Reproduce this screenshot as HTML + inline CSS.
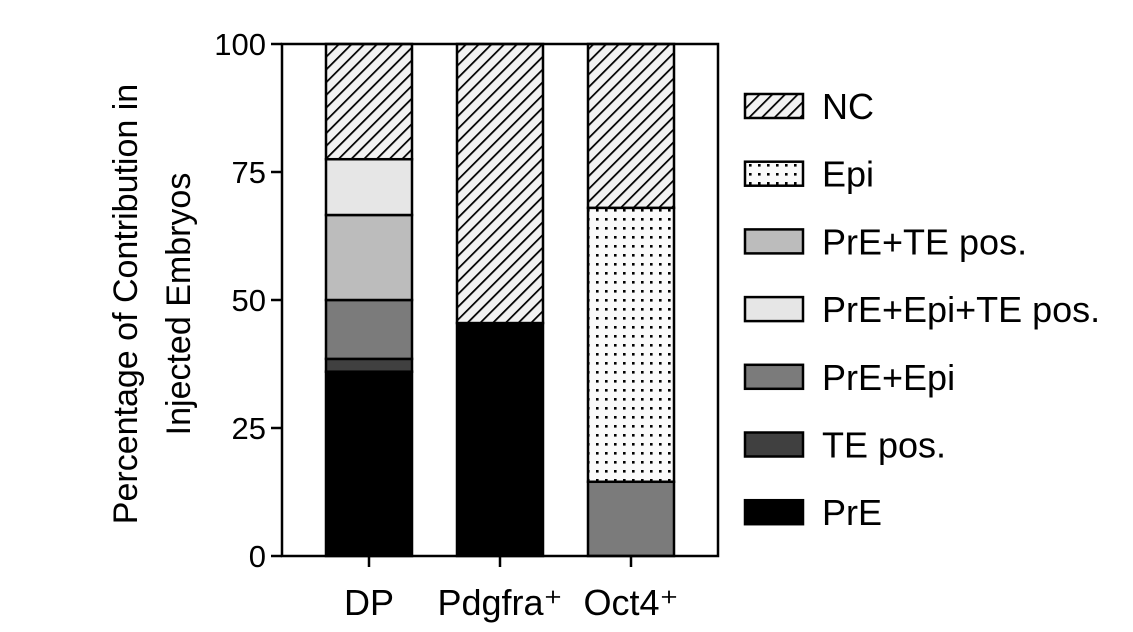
<!DOCTYPE html>
<html><head><meta charset="utf-8"><style>
body{margin:0;background:#fff;width:1133px;height:627px;overflow:hidden}
text{font-family:"Liberation Sans",Arial,sans-serif;fill:#000}
</style></head><body>
<svg id="chart" width="1133" height="627" viewBox="0 0 1133 627">
<defs>
<pattern id="hatch" patternUnits="userSpaceOnUse" width="9" height="9" patternTransform="rotate(45)">
<rect width="9" height="9" fill="#f2f2f2"/><line x1="0" y1="0" x2="0" y2="9" stroke="#000" stroke-width="3.5"/>
</pattern>
<pattern id="dots" patternUnits="userSpaceOnUse" width="9" height="9">
<rect width="9" height="9" fill="#fafafa"/><rect x="2" y="2" width="2.6" height="2.6" fill="#000"/>
</pattern>
</defs>
<g id="plot"></g>
<g id="legend"></g>
<text transform="translate(137,304) rotate(-90)" text-anchor="middle" font-size="34">Percentage of Contribution in</text>
<text transform="translate(190,304) rotate(-90)" text-anchor="middle" font-size="34">Injected Embryos</text>
</svg>
<script>
const categories=["DP","Pdgfra","Oct4"];
const seriesNames=["PrE","TE pos.","PrE+Epi","PrE+TE pos.","PrE+Epi+TE pos.","Epi","NC"];
const PrE=[36,45.5,0];
const TEpos=[2.5,0,0];
const PrEEpi=[11.5,0,14.5];
const PrETE=[16.6,0,0];
const PrEEpiTE=[10.9,0,0];
const Epi=[0,0,53.5];
const NC=[22.5,54.5,32];
const yTicks=[0,25,50,75,100];
const legendOrder=["NC","Epi","PrE+TE pos.","PrE+Epi+TE pos.","PrE+Epi","TE pos.","PrE"];
const fills={"PrE":"#000","TE pos.":"#404040","PrE+Epi":"#7b7b7b","PrE+Epi+TE pos.":"#e6e6e6","PrE+TE pos.":"#bcbcbc","Epi":"url(#dots)","NC":"url(#hatch)"};
const series=[PrE,TEpos,PrEEpi,PrETE,PrEEpiTE,Epi,NC];
const NS="http://www.w3.org/2000/svg";
const L=282,R=718,T=44,B=556,bw=86;
const y=v=>B-(v/100)*(B-T);
const xc=i=>369+i*131;
const plot=document.getElementById('plot');
function mk(tag,attrs,parent){const e=document.createElementNS(NS,tag);for(const k in attrs)e.setAttribute(k,attrs[k]);parent.appendChild(e);return e;}
categories.forEach((c,i)=>{
  let acc=0;
  series.forEach((s,j)=>{
    const v=s[i];if(v<=0)return;
    const r=mk('rect',{x:xc(i)-bw/2,y:y(acc+v),width:bw,height:y(acc)-y(acc+v),fill:fills[seriesNames[j]],stroke:'#000','stroke-width':2.5},plot);
    
    
    acc+=v;
  });
  const tk=mk('line',{x1:xc(i),x2:xc(i),y1:B,y2:B+11,stroke:'#000','stroke-width':2.5},plot);
  
  
  const t=mk('text',{x:xc(i),y:615,'text-anchor':'middle','font-size':36},plot);
  
  
  t.textContent=c+(c==="DP"?"":"\u207A");
});
const frame=mk('rect',{x:L,y:T,width:R-L,height:B-T,fill:'none',stroke:'#000','stroke-width':2.5},plot);


yTicks.forEach(v=>{
  const l=mk('line',{x1:L-11,x2:L,y1:y(v),y2:y(v),stroke:'#000','stroke-width':2.5},plot);
  
  
  const t=mk('text',{x:L-16,y:y(v)+11,'text-anchor':'end','font-size':31},plot);
  
  
  t.textContent=v;
});
const leg=document.getElementById('legend');
legendOrder.forEach((n,k)=>{
  const cy=106+k*67.7;
  const g=mk('g',{},leg);
  
  
  const r=mk('rect',{x:745,y:cy-12,width:58,height:24,fill:fills[n],stroke:'#000','stroke-width':2.5},g);
  
  
  const t=mk('text',{x:822,y:cy+13,'font-size':36},g);
  
  
  t.textContent=n;
});
</script>
</body></html>
